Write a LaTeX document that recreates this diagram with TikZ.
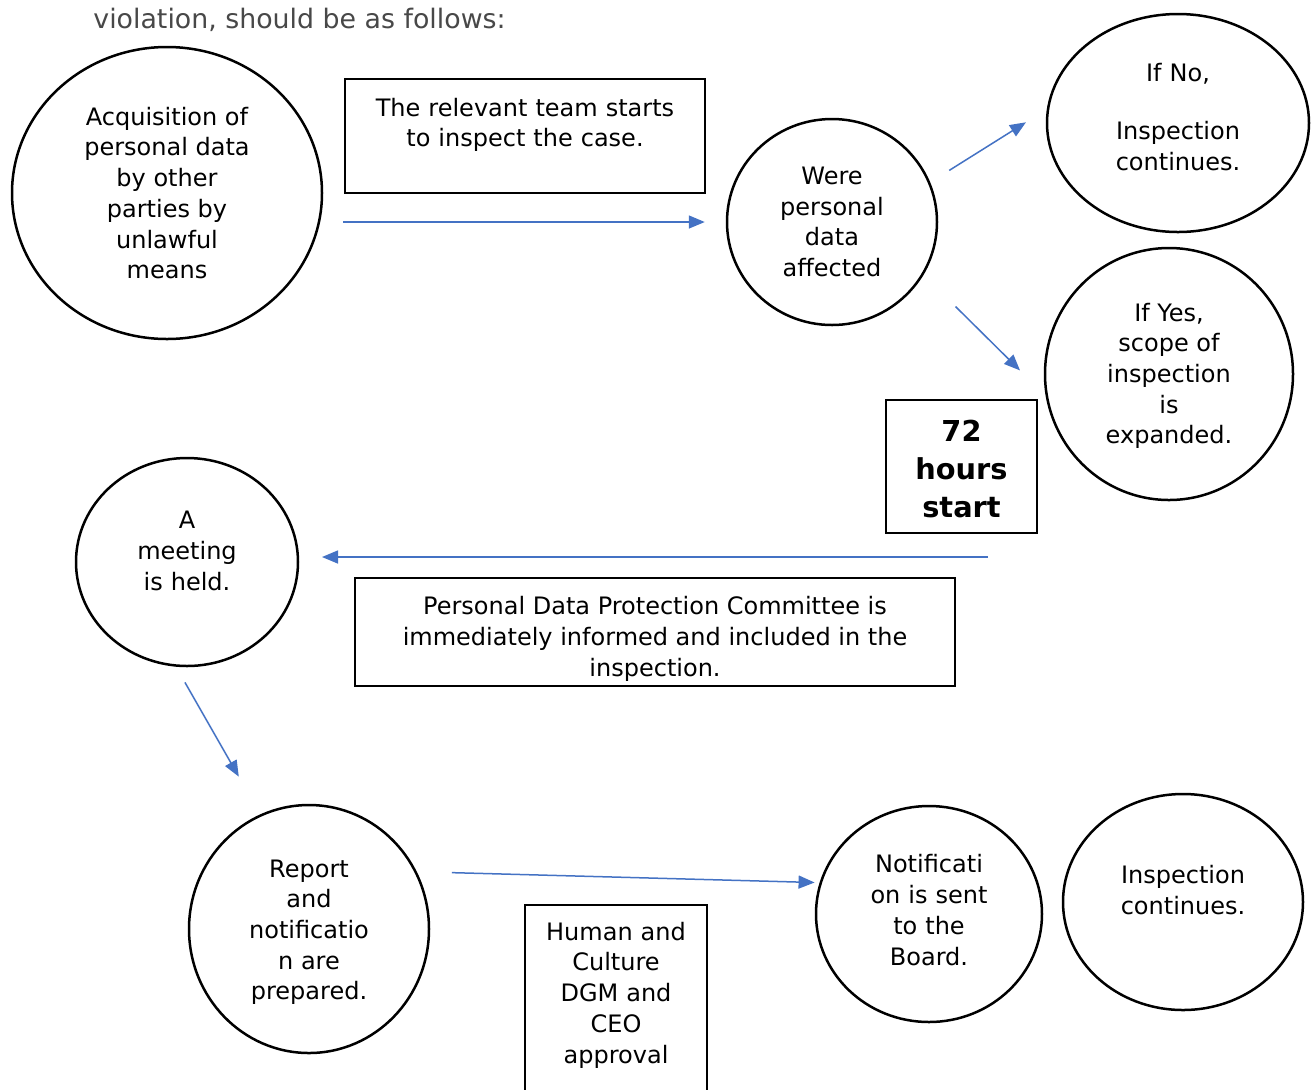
\documentclass[tikz,border=0pt]{standalone}
\usepackage{fontspec}
\setmainfont{DejaVu Sans}
\usetikzlibrary{arrows.meta,shapes.geometric}
\definecolor{flowblue}{RGB}{68,114,196}
\definecolor{introgray}{RGB}{72,72,72}

\tikzset{
  bubble/.style={ellipse,draw,line width=1.25pt,inner sep=0pt,align=center},
  panel/.style={rectangle,draw,line width=1.25pt,align=center},
  flow/.style={draw=flowblue,line width=0.75pt,-{Triangle[length=8pt,width=6.5pt]}}
}

\begin{document}
\begin{tikzpicture}[x=0.5pt,y=-0.5pt,font=\fontsize{12}{15.35}\selectfont]

	% Area
	\useasboundingbox[fill=white] (0,0) rectangle (1312,1089);

	% Intro
	\node[anchor=base west,inner sep=0pt,text=introgray,font=\fontsize{13.4}{16}\selectfont] (intro) at (93,28) {violation, should be as follows:};

	% Top row
	\node[bubble,minimum width=155pt,minimum height=146pt] (acq) at (167,193) {Acquisition of\\personal data\\by other\\parties by\\unlawful\\means};
	\node[panel,minimum width=180pt,minimum height=57pt,text width=170pt] (team) at (525,136) {The relevant team starts\\to inspect the case.\par\kern11pt};
	\node[bubble,minimum width=105pt,minimum height=103pt] (were) at (832,222) {Were\\personal\\data\\affected};
	\node[bubble,minimum width=131pt,minimum height=109pt,text width=70pt] (ifno) at (1178,123) {If No,\\[13.65pt]Inspection\\continues.\par\kern6pt};
	\node[bubble,minimum width=124pt,minimum height=126pt] (ifyes) at (1169,374) {\rule{0pt}{11pt}If Yes,\\scope of\\inspection\\is\\expanded.};
	\node[panel,minimum width=75.5pt,minimum height=66.5pt,font=\fontsize{14.4}{19}\selectfont\bfseries] (hours) at (961.5,466.5) {\rule{0pt}{13.5pt}72\\hours\\start};

	% Middle row
	\node[bubble,minimum width=111pt,minimum height=104pt,text width=60pt] (meeting) at (187,562) {A\\meeting\\is held.\par\kern11pt};
	\node[panel,minimum width=300pt,minimum height=54pt,inner ysep=1pt] (pdpc) at (655,632) {\rule{0pt}{16pt}Personal Data Protection Committee is\\immediately informed and included in the\\inspection.};

	% Bottom row
	\node[bubble,minimum width=120pt,minimum height=124pt] (report) at (309,929) {\rule{0pt}{12pt}Report\\and\\notificatio\\n are\\prepared.};
	\node[panel,minimum width=91pt,minimum height=120pt,text width=80pt] (hc) at (616,1025) {Human and\\Culture\\DGM and\\CEO\\approval\par\kern30pt};
	\node[bubble,minimum width=113pt,minimum height=108pt,text width=62pt] (notif) at (929,914) {Notificati\\on is sent\\to the\\Board.\par\kern4pt};
	\node[bubble,minimum width=120pt,minimum height=108pt,text width=70pt] (final) at (1183,902) {Inspection\\continues.\par\kern12pt};

	% Arrows
	\draw[flow,shorten <=10pt,shorten >=10.5pt] (acq.east |- were.west) -- (were.west);
	\draw[flow,shorten <=11.2pt,shorten >=12.3pt] (were.22) -- (ifno.174);
	\draw[flow,shorten <=22.5pt,shorten >=18pt] (were.-30) -- (ifyes.190);
	\draw[flow] ([shift={(26.5,22.75)}]hours.south) -- ([shift={(22.75,-5)}]meeting.east);
	\draw[flow,shorten <=9pt,shorten >=21.7pt] (meeting.264) -- (report.113);
	\draw[flow,shorten <=17.5pt,shorten >=2.5pt] (report.28) -- (notif.164);

\end{tikzpicture}
\end{document}
